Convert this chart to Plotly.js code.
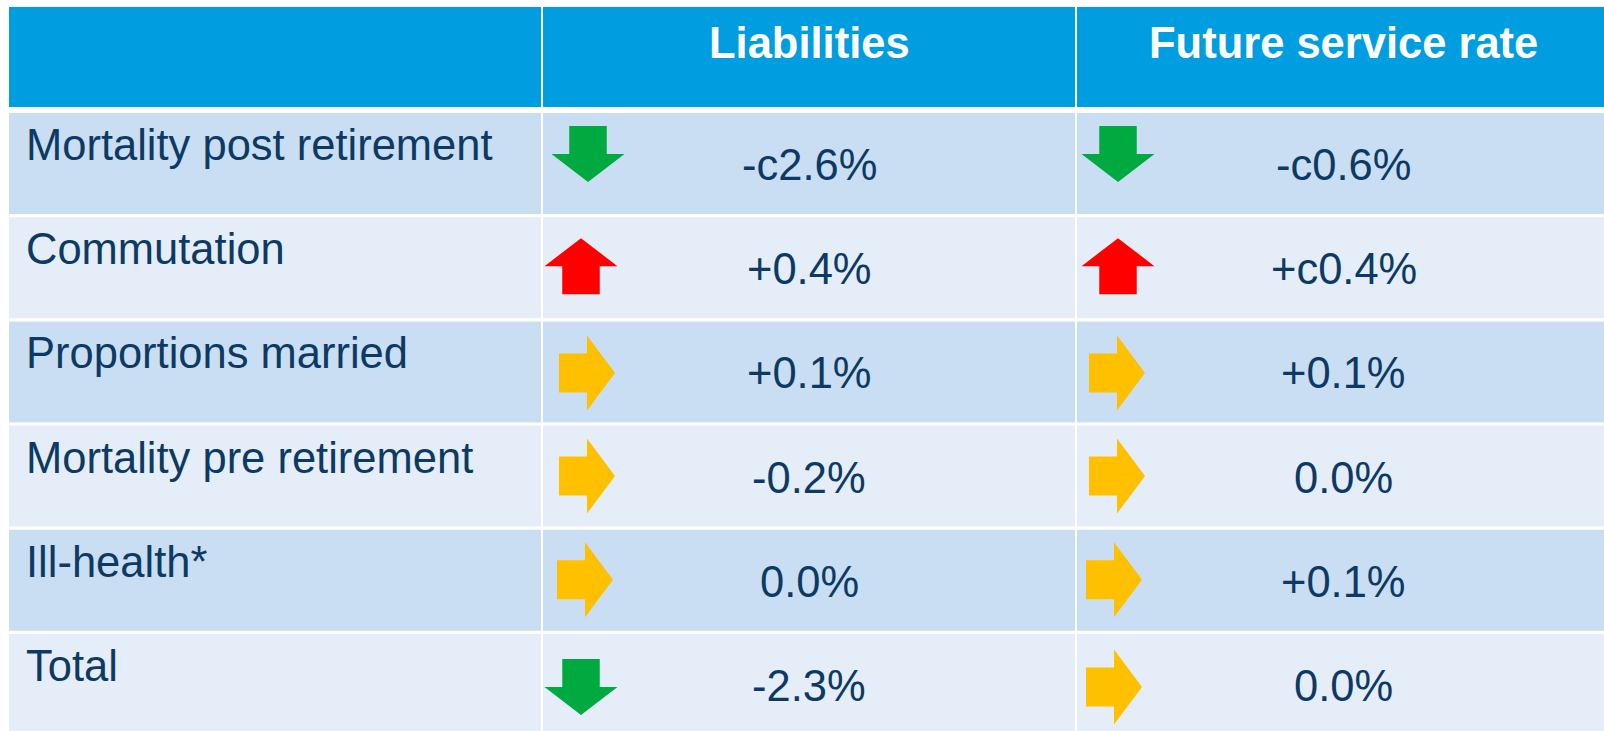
<!DOCTYPE html>
<html>
<head>
<meta charset="utf-8">
<script src="https://cdn.plot.ly/plotly-3.0.1.min.js"></script>
<style>
  html, body { margin: 0; padding: 0; background: #ffffff; }
  #chart { width: 1604px; height: 731px; }
</style>
</head>
<body>
<div id="chart"></div>
<script>
// ---------------- DATA ----------------
const headers = ["", "Liabilities", "Future service rate"];
const factors = [
  "Mortality post retirement",
  "Commutation",
  "Proportions married",
  "Mortality pre retirement",
  "Ill-health*",
  "Total"
];
const liabilitiesText = ["-c2.6%", "+0.4%", "+0.1%", "-0.2%", "0.0%", "-2.3%"];
const liabilitiesDir  = ["down", "up", "right", "right", "right", "down"];
const serviceRateText = ["-c0.6%", "+c0.4%", "+0.1%", "0.0%", "+0.1%", "0.0%"];
const serviceRateDir  = ["down", "up", "right", "right", "right", "right"];

// ---------------- LAYOUT / STYLE ----------------
const W = 1604, H = 731;
const colEdges = [[9, 541], [543, 1075], [1077, 1610]];
const headerTop = 7, headerBottom = 107;
const rowTop0 = 113, rowPitch = 104.2, rowHeight = 101;
const arrowDy = [41, 49, 51.5, 50.5, 50, 53];
const arrowCx = [
  [588, 581, 587, 587, 585, 581],
  [1118, 1118, 1117, 1117, 1114, 1114]
];

const C = {
  header: "#009EE0",
  rowDark: "#C9DEF2",
  rowLight: "#E5EEF8",
  text: "#0C3A64",
  green: "#00AA41",
  red: "#FF0000",
  yellow: "#FFC000"
};
const FONT = "Liberation Sans, Arial, sans-serif";
const FS = 43.5;

const shapes = [];
const annotations = [];
const traces = [];

function rect(x0, x1, y0, y1, color) {
  shapes.push({type: "rect", xref: "x", yref: "y", x0, x1, y0, y1,
    fillcolor: color, line: {width: 0}, layer: "below"});
}

// header cells
colEdges.forEach(([a, b], ci) => {
  rect(a, b, headerTop, headerBottom, C.header);
  if (headers[ci]) {
    annotations.push({xref: "x", yref: "y", x: (a + b) / 2, y: headerTop + 36,
      text: "<b>" + headers[ci] + "</b>", showarrow: false, xanchor: "center", yanchor: "middle",
      font: {family: FONT, size: FS, color: "#FFFFFF"}});
  }
});

// arrow polygon
function arrowPoly(cx, cy, dir) {
  let pts;
  if (dir === "down" || dir === "up") {
    const hw = 36.5, bw = 18.75, h = 28;
    pts = [[-bw, -h], [bw, -h], [bw, 0], [hw, 0], [0, h], [-hw, 0], [-bw, 0]];
    if (dir === "up") pts = pts.map(([x, y]) => [x, -y]);
  } else {
    const hh = 37.5, bh = 19.5, w = 28;
    pts = [[-w, -bh], [0, -bh], [0, -hh], [w, 0], [0, hh], [0, bh], [-w, bh]];
  }
  return pts.map(([x, y]) => [cx + x, cy + y]);
}
const dirColor = {down: C.green, up: C.red, right: C.yellow};

factors.forEach((name, i) => {
  const top = rowTop0 + i * rowPitch;
  const bottom = (i === factors.length - 1) ? H + 5 : top + rowHeight;
  const fill = (i % 2 === 0) ? C.rowDark : C.rowLight;
  colEdges.forEach(([a, b]) => rect(a, b, top, bottom, fill));

  annotations.push({xref: "x", yref: "y", x: 24, y: top + 32, text: name,
    showarrow: false, xanchor: "left", yanchor: "middle",
    font: {family: FONT, size: FS, color: C.text}});

  [[liabilitiesText, liabilitiesDir], [serviceRateText, serviceRateDir]].forEach(([txt, dirs], k) => {
    const [a, b] = colEdges[k + 1];
    annotations.push({xref: "x", yref: "y", x: (a + b) / 2, y: top + 52, text: txt[i],
      showarrow: false, xanchor: "center", yanchor: "middle",
      font: {family: FONT, size: FS, color: C.text}});
    const poly = arrowPoly(arrowCx[k][i], top + arrowDy[i], dirs[i]);
    traces.push({type: "scatter", mode: "lines", fill: "toself",
      x: poly.map(p => p[0]).concat([poly[0][0]]),
      y: poly.map(p => p[1]).concat([poly[0][1]]),
      fillcolor: dirColor[dirs[i]], line: {width: 0, color: dirColor[dirs[i]]},
      hoverinfo: "skip", showlegend: false});
  });
});

const layout = {
  width: W, height: H,
  margin: {l: 0, r: 0, t: 0, b: 0},
  paper_bgcolor: "#FFFFFF", plot_bgcolor: "#FFFFFF",
  xaxis: {range: [0, W], visible: false, fixedrange: true},
  yaxis: {range: [H, 0], visible: false, fixedrange: true},
  shapes, annotations, showlegend: false
};

Plotly.newPlot("chart", traces, layout, {staticPlot: true, displayModeBar: false});
</script>
</body>
</html>
